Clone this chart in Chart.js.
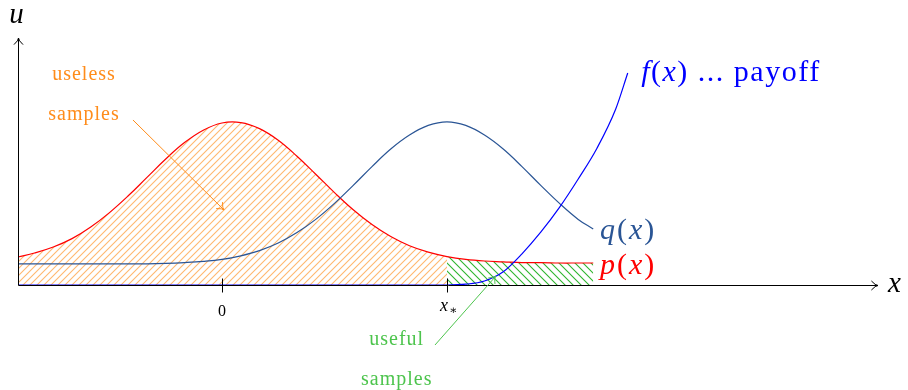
<!DOCTYPE html>
<html>
<head>
<meta charset="utf-8">
<script src="https://cdn.jsdelivr.net/npm/chart.js@4/dist/chart.umd.min.js"></script>
<style>
  html, body { margin: 0; padding: 0; background: #fff; }
  #wrap { width: 908px; height: 390px; position: relative; }
</style>
</head>
<body>
<div id="wrap"><canvas id="c"></canvas></div>
<script>
// sample positions on the x axis, shared by p(x) and q(x)
var xs = [-2.72, -2.5, -2.25, -2, -1.75, -1.5, -1.25, -1, -0.75, -0.5, -0.25, 0,
          0.25, 0.5, 0.75, 1, 1.25, 1.5, 1.75, 2, 2.25, 2.5, 2.75, 3,
          3.25, 3.5, 3.75, 4, 4.25, 4.5, 4.75, 4.95];
var pValues = [0.70, 0.80, 0.95, 1.16, 1.45, 1.81, 2.23, 2.69, 3.15, 3.56, 3.87, 4.05,
               4.06, 3.91, 3.62, 3.22, 2.77, 2.31, 1.88, 1.51, 1.21, 0.98, 0.82, 0.71,
               0.64, 0.60, 0.58, 0.56, 0.56, 0.55, 0.55, 0.55];
var qValues = [0.53, 0.53, 0.53, 0.53, 0.53, 0.53, 0.53, 0.53, 0.54, 0.56, 0.59, 0.64,
               0.73, 0.86, 1.05, 1.31, 1.64, 2.04, 2.49, 2.96, 3.40, 3.75, 3.99, 4.08,
               3.99, 3.75, 3.40, 2.96, 2.49, 2.04, 1.64, 1.40];
// payoff f(x)
var fX = [-2.72, 3, 3.25, 3.5, 3.75, 4, 4.25, 4.5, 4.75, 5, 5.25, 5.41];
var fValues = [0, 0, 0.02, 0.1, 0.33, 0.78, 1.32, 1.94, 2.65, 3.42, 4.4, 5.3];
var xStar = 3;
var tickValues = [0, xStar];

var xMin = -2.72, xMax = 8.747, yMax = 6.175;

var RED = '#ff0000', QBLUE = '#2a5595', BLUE = '#0000ff';
var ORANGE = '#ff8c1a', GREEN = '#4dc44d';
var SERIF = '"Liberation Serif", "DejaVu Serif", serif';

function pts(xv, yv) {
  return xv.map(function (v, i) { return { x: v, y: yv[i] }; });
}

var pPts = pts(xs, pValues);
var leftPart = pPts.filter(function (d) { return d.x <= xStar; });
var rightPart = pPts.filter(function (d) { return d.x >= xStar; });

var canvas = document.getElementById('c');
var ctx0 = canvas.getContext('2d');

function hatch(color, n, dir) {
  var c = document.createElement('canvas');
  c.width = c.height = n;
  var g = c.getContext('2d');
  g.strokeStyle = color;
  g.lineWidth = 1.1;
  g.beginPath();
  if (dir > 0) {
    g.moveTo(-1, n + 1); g.lineTo(n + 1, -1);
    g.moveTo(-1, 1); g.lineTo(1, -1);
    g.moveTo(n - 1, n + 1); g.lineTo(n + 1, n - 1);
  } else {
    g.moveTo(-1, -1); g.lineTo(n + 1, n + 1);
    g.moveTo(n - 1, -1); g.lineTo(n + 1, 1);
    g.moveTo(-1, n - 1); g.lineTo(1, n + 1);
  }
  g.stroke();
  return ctx0.createPattern(c, 'repeat');
}

// mixed italic / upright text, parts = [[text, italic], ...]
function mathText(ctx, parts, x, y, size, color, align, spacing) {
  ctx.letterSpacing = (spacing || 0) + 'px';
  var w = 0;
  parts.forEach(function (p) {
    ctx.font = (p[1] ? 'italic ' : '') + size + 'px ' + SERIF;
    w += ctx.measureText(p[0]).width;
  });
  var cx = align === 'center' ? x - w / 2 : x;
  ctx.fillStyle = color;
  ctx.textBaseline = 'middle';
  ctx.textAlign = 'left';
  parts.forEach(function (p) {
    ctx.font = (p[1] ? 'italic ' : '') + size + 'px ' + SERIF;
    ctx.fillText(p[0], cx, y);
    cx += ctx.measureText(p[0]).width;
  });
  ctx.letterSpacing = '0px';
}

function arrowHead(ctx, x, y, ang, len) {
  ctx.beginPath();
  ctx.moveTo(x - len * Math.cos(ang - 0.6), y - len * Math.sin(ang - 0.6));
  ctx.quadraticCurveTo(x - len * 0.3 * Math.cos(ang), y - len * 0.3 * Math.sin(ang), x, y);
  ctx.quadraticCurveTo(x - len * 0.3 * Math.cos(ang), y - len * 0.3 * Math.sin(ang),
                       x - len * Math.cos(ang + 0.6), y - len * Math.sin(ang + 0.6));
  ctx.stroke();
}

function arrow(ctx, x1, y1, x2, y2, color) {
  ctx.strokeStyle = color;
  ctx.lineWidth = 1;
  ctx.beginPath();
  ctx.moveTo(x1, y1);
  ctx.lineTo(x2, y2);
  ctx.stroke();
  arrowHead(ctx, x2, y2, Math.atan2(y2 - y1, x2 - x1), 8);
}

var sketch = {
  id: 'sketch',
  afterDatasetsDraw: function (chart) {
    var ctx = chart.ctx, sx = chart.scales.x, sy = chart.scales.y;
    var X = function (v) { return sx.getPixelForValue(v); };
    var Y = function (v) { return sy.getPixelForValue(v); };
    ctx.save();

    // axes with arrow tips
    var ox = Math.round(X(xMin)) + 0.5, oy = Math.round(Y(0)) + 0.5;
    ctx.strokeStyle = '#000';
    ctx.lineWidth = 1;
    ctx.beginPath();
    ctx.moveTo(ox, oy); ctx.lineTo(X(xMax), oy);
    ctx.moveTo(ox, oy); ctx.lineTo(ox, Y(yMax));
    ctx.stroke();
    arrowHead(ctx, X(xMax), oy, 0, 8);
    arrowHead(ctx, ox, Y(yMax), -Math.PI / 2, 8);

    // tick marks
    tickValues.forEach(function (v) {
      var tx = Math.round(X(v)) + 0.5;
      ctx.beginPath();
      ctx.moveTo(tx, oy - 7); ctx.lineTo(tx, oy + 7);
      ctx.stroke();
    });
    mathText(ctx, [['0', false]], X(0), oy + 26, 16, '#000', 'center');
    mathText(ctx, [['x', true]], X(xStar) - 3, oy + 21, 18, '#000', 'center');
    mathText(ctx, [['\u2217', false]], X(xStar) + 6, oy + 25, 12, '#000', 'center');

    // axis names
    mathText(ctx, [['x', true]], X(xMax) + 10, oy - 1, 29, '#000', 'left');
    mathText(ctx, [['u', true]], ox - 2, 15, 29, '#000', 'center');

    // curve labels
    mathText(ctx, [['f', true], ['(', false], ['x', true], [')', false], [' ... payoff', false]],
             X(5.59), Y(5.3), 30, BLUE, 'left', 1.5);
    mathText(ctx, [['q', true], ['(', false], ['x', true], [')', false]],
             X(5.04), Y(1.35), 30, QBLUE, 'left', 2);
    mathText(ctx, [['p', true], ['(', false], ['x', true], [')', false]],
             X(5.04), Y(0.48), 30, RED, 'left', 2);

    // annotations
    mathText(ctx, [['useless', false]], X(-1.84), Y(5.25), 20, ORANGE, 'center', 1);
    mathText(ctx, [['samples', false]], X(-1.84), Y(4.25), 20, ORANGE, 'center', 1);
    mathText(ctx, [['useful', false]], X(2.33), Y(-1.375), 20, GREEN, 'center', 1);
    mathText(ctx, [['samples', false]], X(2.33), Y(-2.375), 20, GREEN, 'center', 1);
    arrow(ctx, X(-1.187), Y(4.125), X(0.027), Y(1.875), ORANGE);
    arrow(ctx, X(2.84), Y(-1.5), X(3.653), Y(0.225), GREEN);

    ctx.restore();
  }
};

var smooth = { pointRadius: 0, borderWidth: 1.2, tension: 0.4, fill: false };

new Chart(canvas, {
  type: 'line',
  data: {
    datasets: [
      Object.assign({}, smooth, { label: 'f(x)', data: pts(fX, fValues), borderColor: BLUE,
                                  cubicInterpolationMode: 'monotone' }),
      Object.assign({}, smooth, { label: 'q(x)', data: pts(xs, qValues), borderColor: QBLUE }),
      Object.assign({}, smooth, { label: 'p(x)', data: pPts, borderColor: RED }),
      Object.assign({}, smooth, { label: 'useful', data: rightPart, borderWidth: 0,
                                  fill: 'origin', backgroundColor: hatch('#2fb52f', 8, -1) }),
      Object.assign({}, smooth, { label: 'useless', data: leftPart, borderWidth: 0,
                                  fill: 'origin', backgroundColor: hatch('#ffb870', 7, 1) })
    ]
  },
  options: {
    responsive: true,
    maintainAspectRatio: false,
    animation: false,
    events: [],
    layout: { padding: { left: 18, right: 30, top: 38, bottom: 105 } },
    scales: {
      x: { type: 'linear', min: xMin, max: xMax, display: false },
      y: { type: 'linear', min: 0, max: yMax, display: false }
    },
    plugins: {
      legend: { display: false },
      tooltip: { enabled: false }
    }
  },
  plugins: [sketch]
});
</script>
</body>
</html>
